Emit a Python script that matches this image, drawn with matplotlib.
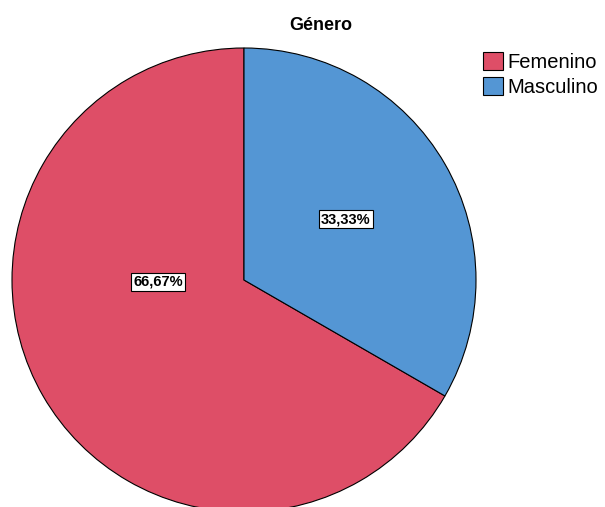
import matplotlib.pyplot as plt
from matplotlib.patches import Patch

categories = ['Femenino', 'Masculino']
values = [66.67, 33.33]
pct_labels = ['66,67%', '33,33%']
colors = ['#DE4E67', '#5496D4']

plt.rcParams['font.family'] = ['Liberation Sans', 'DejaVu Sans']

fig = plt.figure(figsize=(6.05, 5.07), dpi=100)
ax = fig.add_axes([0, 0, 1, 1])

wedges, _ = ax.pie(values, colors=colors, startangle=90, counterclock=True,
                   center=(244, 227), radius=232, frame=True,
                   wedgeprops=dict(edgecolor='black', linewidth=0.8))
ax.set_xlim(0, 605)
ax.set_ylim(0, 507)
ax.axis('off')

# label positions (SPSS style, not at wedge midpoints)
label_pos = [(158, 225), (346, 288)]
for (x, y), txt in zip(label_pos, pct_labels):
    ax.text(x, y, txt, ha='center', va='center', fontsize=10.5, fontweight='bold',
            bbox=dict(boxstyle='square,pad=0.15', facecolor='white', edgecolor='black', linewidth=0.8))

fig.text(321 / 605, 1 - 25 / 507, 'Género', ha='center', va='center',
         fontsize=13, fontweight='bold')

handles = [Patch(facecolor=c, edgecolor='black', linewidth=0.8) for c in colors]
fig.legend(handles, categories, loc='upper left', bbox_to_anchor=(483 / 605, 1 - 52 / 507),
           frameon=False, fontsize=14.5, handlelength=1.0, handleheight=1.0,
           handletextpad=0.2, labelspacing=0.25, borderpad=0.0, borderaxespad=0.0)

fig.savefig('out.png', dpi=100)
